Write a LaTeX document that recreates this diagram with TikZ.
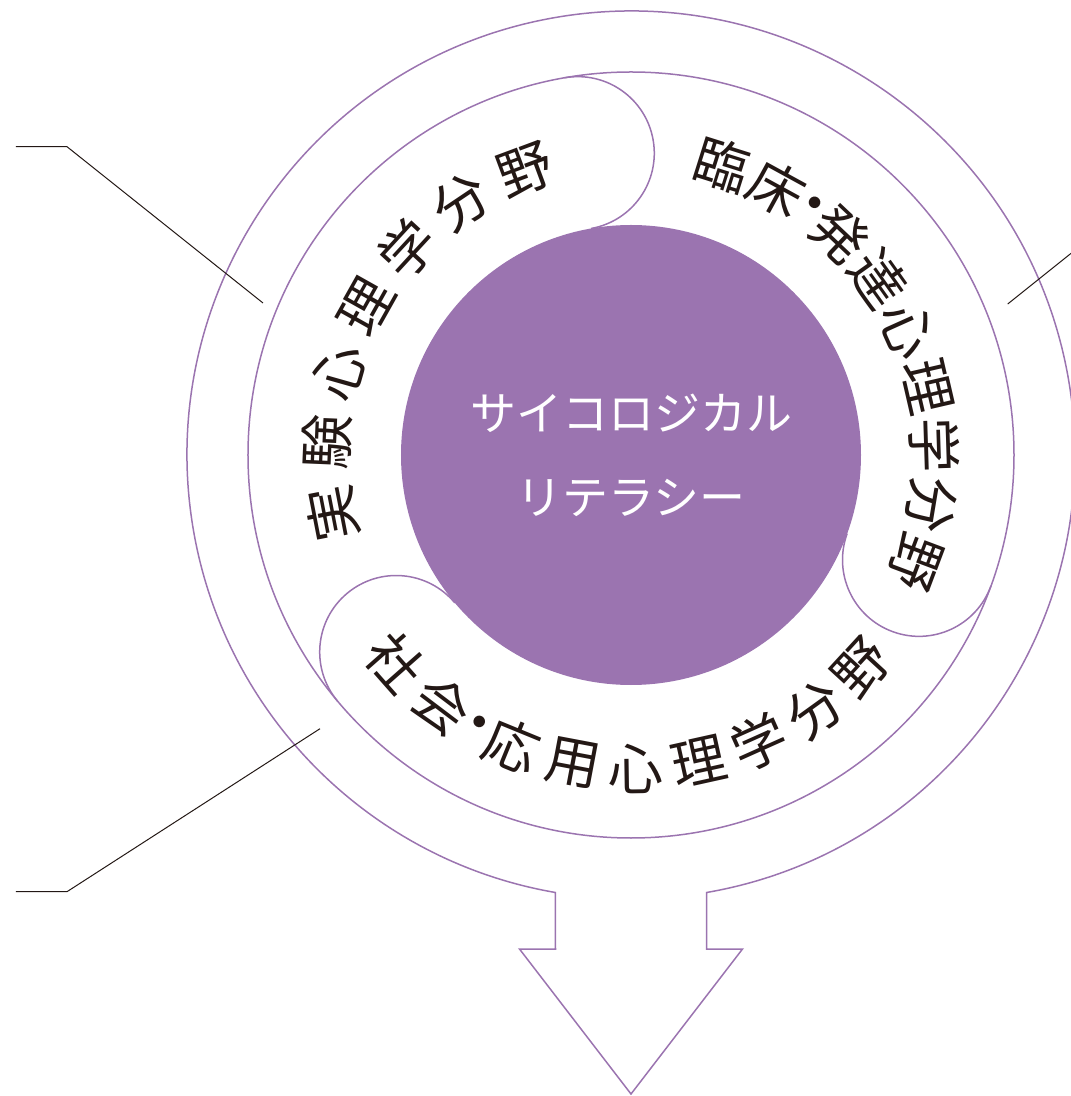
\documentclass[tikz,border=0pt]{standalone}
\usepackage{fontspec}
\setmainfont{Noto Sans CJK JP}
\usepackage{tikz}
\definecolor{psy}{RGB}{155,116,176}
\definecolor{ink}{RGB}{35,24,21}
\newcommand{\sep}{\makebox[0.3em]{・}}

\begin{document}
\begin{tikzpicture}[x=0.5pt,y=0.5pt,
    ring/.style={draw=psy, line width=0.75pt},
    leader/.style={draw=ink, line width=0.5pt},
    field/.style={text=ink, inner sep=0pt, font=\fontsize{27.5}{30}\selectfont}]
    \useasboundingbox (-631,-641) rectangle (439,455);

    \fill[psy] (0,0) circle[radius=230];
    \node(core) at (0,0) [text=white, align=center, font=\fontsize{23}{42}\selectfont]
        {サイコロジカル\\リテラシー};

    \draw[ring] (0,0) circle[radius=383];
    \foreach \a in {100,220,340}
        \draw[ring] (\a:230) arc[start angle=\a+180, end angle=\a+360, radius=76.5];

    % outer ring running into the arrow
    \draw[ring] (-80.2:444) arc[start angle=-80.2, end angle=260.2, radius=444]
        -- (-75.5,-494) -- (-111.5,-494) -- (0,-639) -- (111.5,-494) -- (75.5,-494) -- cycle;

    \foreach \ang/\ch [count=\i] in {191/実, 177.6/験, 164.2/心, 150.7/理, 137.3/学, 123.9/分, 110.4/野}
        \node(exp\i)[field, rotate=\ang-90] at (\ang:304) {\ch};
    \foreach \ang/\ch [count=\i] in {72.5/臨, 61.3/床, 53.9/\sep, 46.6/発, 35.4/達, 24.2/心, 13.0/理, 1.8/学, -9.4/分, -20.6/野}
        \node(cli\i)[field, rotate=\ang-90] at (\ang:304) {\ch};
    \foreach \ang/\ch [count=\i] in {221.4/社, 232.9/会, 240.4/\sep, 247.7/応, 259.3/用, 270.9/心, 282.5/理, 294.1/学, 305.8/分, 317.4/野}
        \node(soc\i)[field, rotate=\ang+90] at (\ang:314) {\ch};

    % leaders
    \coordinate(ea) at (-615,308.3);
    \coordinate(eb) at (-564,308.3);
    \coordinate(ec) at (-368,152);
    \coordinate(sa) at (-615,-436.7);
    \coordinate(sb) at (-564,-436.7);
    \coordinate(sc) at (-311,-273.7);
    \coordinate(ca) at (376.7,151);
    \coordinate(cb) at (460,217.6);
    \draw[leader] (ea) -- (eb) -- (ec);
    \draw[leader] (sa) -- (sb) -- (sc);
    \draw[leader] (ca) -- (cb);
\end{tikzpicture}
\end{document}
